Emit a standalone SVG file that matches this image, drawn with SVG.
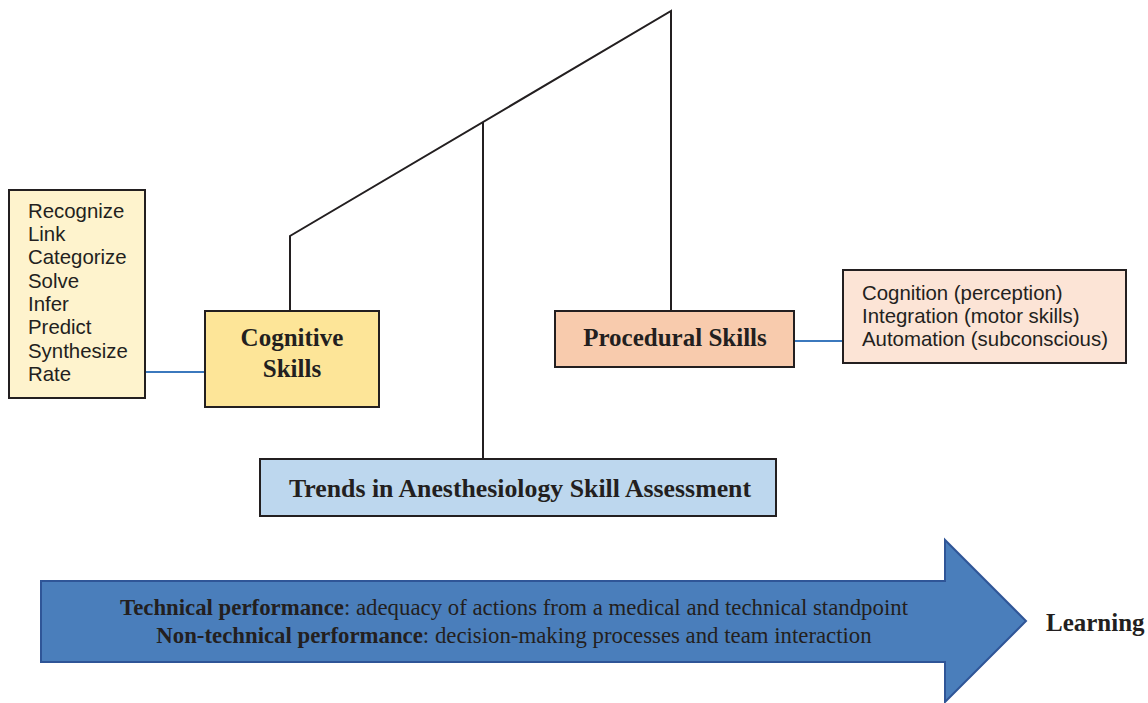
<svg xmlns="http://www.w3.org/2000/svg" width="1148" height="703" viewBox="0 0 1148 703">
<style>
.box{stroke:#231f20;stroke-width:2}
.sans{font-family:"Liberation Sans",Arial,sans-serif;font-size:20.4px;fill:#231f20}
.serif{font-family:"Liberation Serif","Times New Roman",serif;fill:#231f20}
.hb{font-size:25px;font-weight:bold}
.line{fill:none;stroke:#231f20;stroke-width:2}
.blue{fill:none;stroke:#3b78bd;stroke-width:2}
</style>
<rect width="1148" height="703" fill="#ffffff"/>
<g id="connectors">
<polyline class="line" points="290,311 290,236 671,11 671,311"/>
<line class="line" x1="483" y1="122" x2="483" y2="459"/>
<line class="blue" x1="145" y1="372" x2="205" y2="372"/>
<line class="blue" x1="794" y1="341" x2="843" y2="341"/>
</g>
<g id="cognitive-list">
<rect class="box" x="9" y="190" width="136" height="208" fill="#fef3cd"/>
<text class="sans" x="28" y="218">Recognize</text>
<text class="sans" x="28" y="241">Link</text>
<text class="sans" x="28" y="264">Categorize</text>
<text class="sans" x="28" y="288">Solve</text>
<text class="sans" x="28" y="311">Infer</text>
<text class="sans" x="28" y="334">Predict</text>
<text class="sans" x="28" y="358">Synthesize</text>
<text class="sans" x="28" y="381">Rate</text>
</g>
<g id="cognitive-skills">
<rect class="box" x="205" y="311" width="174" height="96" fill="#fde598"/>
<text class="serif hb" x="292" y="346" text-anchor="middle">Cognitive</text>
<text class="serif hb" x="292" y="377" text-anchor="middle">Skills</text>
</g>
<g id="procedural-skills">
<rect class="box" x="555" y="311" width="239" height="56" fill="#f8cbad"/>
<text class="serif hb" x="675" y="346" text-anchor="middle">Procedural Skills</text>
</g>
<g id="procedural-list">
<rect class="box" x="843" y="270" width="283" height="93" fill="#fce4d6"/>
<text class="sans" x="862" y="300">Cognition (perception)</text>
<text class="sans" x="862" y="323">Integration (motor skills)</text>
<text class="sans" x="862" y="346">Automation (subconscious)</text>
</g>
<g id="trends">
<rect class="box" x="260" y="459" width="516" height="57" fill="#bdd7ee"/>
<text class="serif hb" font-size="25.8" style="font-size:25.8px" x="520" y="497" text-anchor="middle">Trends in Anesthesiology Skill Assessment</text>
</g>
<g id="performance-arrow">
<polygon points="41,581 945,581 945,540 1026,621 945,702 945,662 41,662" fill="#4a7ebb" stroke="#2f5597" stroke-width="2"/>
<text class="serif" font-size="22.8" x="514" y="615" text-anchor="middle"><tspan font-weight="bold">Technical performance</tspan>: adequacy of actions from a medical and technical standpoint</text>
<text class="serif" font-size="22.8" x="514" y="643" text-anchor="middle"><tspan font-weight="bold">Non-technical performance</tspan>: decision-making processes and team interaction</text>
</g>
<g id="learning">
<text class="serif hb" x="1046" y="631">Learning</text>
</g>
</svg>
